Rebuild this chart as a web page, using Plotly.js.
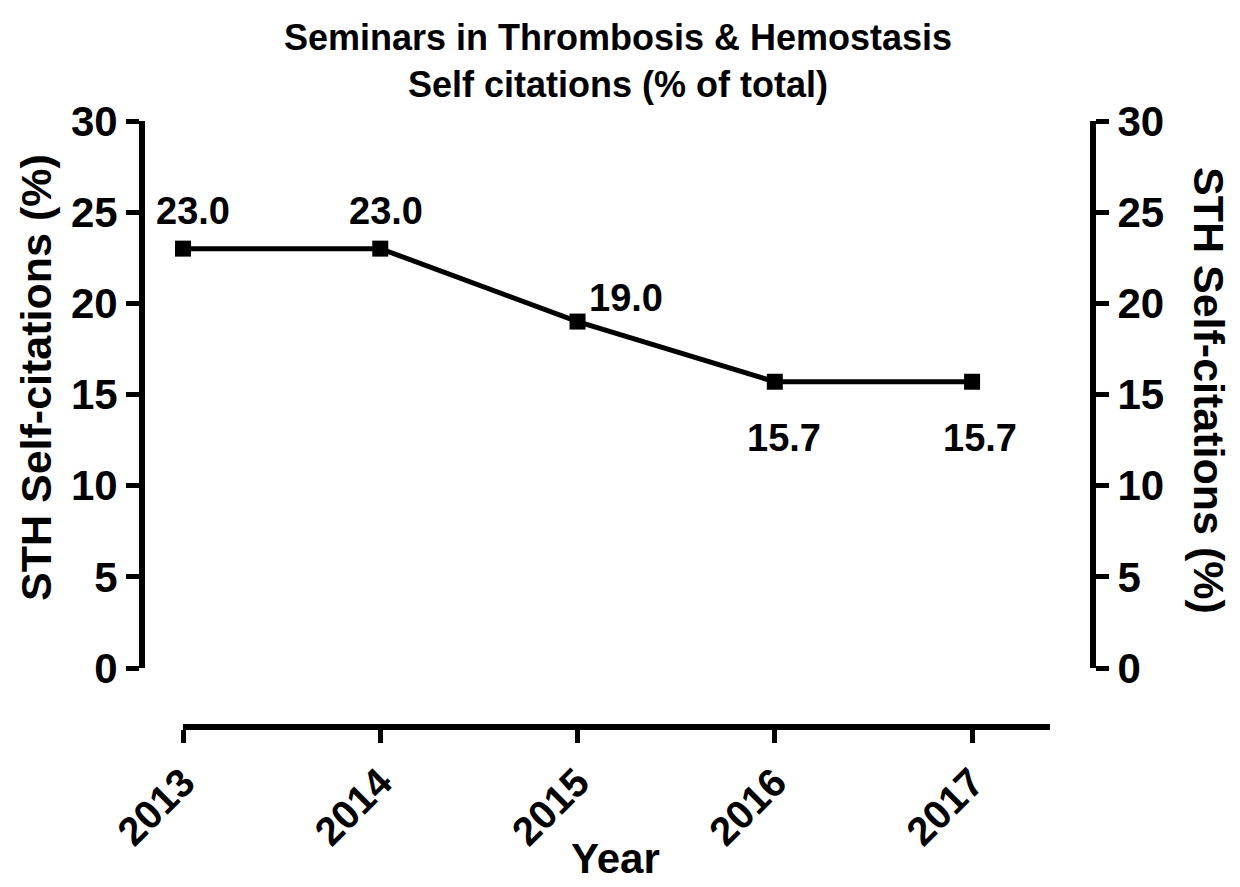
<!DOCTYPE html>
<html>
<head>
<meta charset="utf-8">
<script src="https://cdn.plot.ly/plotly-3.0.1.min.js"></script>
<style>html,body{margin:0;padding:0;background:#fff;}#chart{width:1240px;height:887px;}</style>
</head>
<body>
<div id="chart"></div>
<script>
// Data
const years = [2013, 2014, 2015, 2016, 2017];
const selfCitations = [23.0, 23.0, 19.0, 15.7, 15.7];
const valueLabels = ["23.0", "23.0", "19.0", "15.7", "15.7"];
const yTicks = [0, 5, 10, 15, 20, 25, 30];
const xTickLabels = ["2013", "2014", "2015", "2016", "2017"];

const FONT = '"Liberation Sans", Arial, Helvetica, sans-serif';
const W = 1240, H = 887;
const px = v => v / W;
const py = v => (H - v) / H;

// label offsets per point (style, not data)
const labelShiftX = [10, 6, 48, 9, 8];
const labelShiftY = [38, 38, 24, -56, -56];

const trace = {
  x: years, y: selfCitations,
  type: 'scatter', mode: 'lines+markers',
  line: {color: '#000', width: 5},
  marker: {symbol: 'square', size: 16, color: '#000'},
  cliponaxis: false,
  hoverinfo: 'skip',
  xaxis: 'x', yaxis: 'y'
};
const dummy = {x: [years[0]], y: [0], yaxis: 'y2', xaxis: 'x', mode: 'markers', marker: {opacity: 0}, hoverinfo: 'skip', showlegend: false};

const annotations = years.map((yr, i) => ({
  x: yr, y: selfCitations[i], xref: 'x', yref: 'y',
  xanchor: 'center', yanchor: 'middle',
  text: valueLabels[i], showarrow: false,
  xshift: labelShiftX[i], yshift: labelShiftY[i],
  font: {family: FONT, size: 38, color: '#000', weight: 'bold'}
}));
annotations.push({
  x: px(36), y: py(378), xref: 'paper', yref: 'paper',
  xanchor: 'center', yanchor: 'middle',
  text: 'STH Self-citations (%)', textangle: -90, showarrow: false,
  font: {family: FONT, size: 43, color: '#000', weight: 'bold'}
});
annotations.push({
  x: px(1209), y: py(390), xref: 'paper', yref: 'paper',
  xanchor: 'center', yanchor: 'middle',
  text: 'STH Self-citations (%)', textangle: 90, showarrow: false,
  font: {family: FONT, size: 43, color: '#000', weight: 'bold'}
});
annotations.push({
  x: px(615), y: py(858), xref: 'paper', yref: 'paper',
  xanchor: 'center', yanchor: 'middle',
  text: 'Year', showarrow: false,
  font: {family: FONT, size: 42, color: '#000', weight: 'bold'}
});

const axisCommon = {
  showgrid: false, zeroline: false, showline: true,
  linecolor: '#000', linewidth: 6,
  ticks: 'outside', ticklen: 13, tickwidth: 5, tickcolor: '#000',
  tickfont: {family: FONT, size: 42, color: '#000', weight: 'bold'},
  fixedrange: true
};

const layout = {
  width: W, height: H,
  margin: {l: 0, r: 0, t: 0, b: 0, autoexpand: false},
  paper_bgcolor: '#fff', plot_bgcolor: '#fff',
  showlegend: false,
  title: {
    text: 'Seminars in Thrombosis & Hemostasis<br>Self citations (% of total)',
    x: px(618), xanchor: 'center', y: py(50), yanchor: 'middle',
    xref: 'paper', yref: 'container',
    font: {family: FONT, size: 36, color: '#000', weight: 'bold'}
  },
  xaxis: Object.assign({}, axisCommon, {
    domain: [px(183), px(1050)],
    range: [2013, 2017.395],
    anchor: 'free', position: py(727),
    tickvals: years, ticktext: xTickLabels,
    tickangle: -45,
    tickfont: {family: FONT, size: 40, color: '#000', weight: 'bold'}
  }),
  yaxis: Object.assign({}, axisCommon, {
    domain: [py(668), py(121)],
    range: [0, 30],
    anchor: 'free', position: px(142),
    tickvals: yTicks
  }),
  yaxis2: Object.assign({}, axisCommon, {
    domain: [py(668), py(121)],
    range: [0, 30],
    overlaying: 'y', side: 'right',
    anchor: 'free', position: px(1093),
    tickvals: yTicks
  }),
  annotations: annotations
};

Plotly.newPlot('chart', [trace, dummy], layout, {displayModeBar: false, staticPlot: true});
</script>
</body>
</html>
